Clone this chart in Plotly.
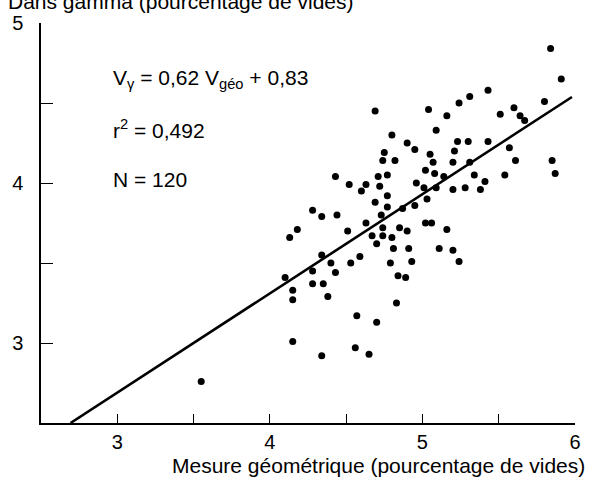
import plotly.graph_objects as go

# Mesure géométrique (x) and Dans gamma (y), pourcentage de vides
x_geo = [5.84, 5.91, 5.80, 5.60, 5.64, 5.67, 5.43, 5.31, 5.24, 5.04,
         5.16, 4.69, 5.51, 5.09, 4.80, 4.90, 4.95, 4.75, 4.74, 4.82,
         5.05, 5.07, 5.23, 5.30, 5.43, 5.21, 5.20, 5.31, 5.57, 5.61,
         5.85, 5.87, 5.54, 5.34, 5.41, 5.38, 5.28, 5.20, 5.14, 5.08,
         5.02, 5.09, 5.01, 4.96, 5.03, 4.95, 4.87, 4.77, 4.77, 4.71,
         4.77, 4.72, 4.63, 4.60, 4.69, 4.73, 4.63, 4.74, 4.85, 4.90,
         5.02, 5.06, 5.16, 4.52, 4.43, 4.44, 4.34, 4.28, 4.18, 4.13,
         4.51, 4.67, 4.74, 4.80, 4.34, 4.40, 4.53, 4.59, 4.28, 4.43,
         4.10, 4.28, 4.35, 4.15, 4.15, 4.38, 4.57, 4.15, 4.56, 4.34,
         3.55, 4.70, 4.81, 4.91, 4.93, 4.79, 5.11, 5.20, 5.24, 4.84,
         4.89, 4.83, 4.70, 4.65]
y_gamma = [4.84, 4.65, 4.51, 4.47, 4.42, 4.39, 4.58, 4.54, 4.50, 4.46,
           4.42, 4.45, 4.43, 4.33, 4.30, 4.25, 4.21, 4.19, 4.14, 4.14,
           4.18, 4.13, 4.26, 4.26, 4.26, 4.20, 4.13, 4.13, 4.22, 4.14,
           4.14, 4.06, 4.05, 4.05, 4.01, 3.96, 3.97, 3.96, 4.04, 4.06,
           4.08, 3.97, 3.97, 4.00, 3.90, 3.86, 3.84, 3.92, 3.85, 4.04,
           4.05, 3.98, 3.99, 3.95, 3.88, 3.80, 3.75, 3.72, 3.72, 3.70,
           3.75, 3.75, 3.71, 3.99, 4.04, 3.80, 3.79, 3.83, 3.71, 3.66,
           3.70, 3.67, 3.67, 3.66, 3.55, 3.50, 3.50, 3.54, 3.45, 3.44,
           3.41, 3.37, 3.37, 3.33, 3.27, 3.29, 3.17, 3.01, 2.97, 2.92,
           2.76, 3.62, 3.59, 3.59, 3.51, 3.50, 3.59, 3.58, 3.51, 3.42,
           3.41, 3.25, 3.13, 2.93]

# Regression: V_gamma = 0.62 V_geo + 0.83
slope = 0.62
intercept = 0.83
fit_x = [(2.5 - intercept) / slope, 5.98]
fit_y = [slope * v + intercept for v in fit_x]

x_ticks = [3, 4, 5, 6]
y_ticks = [3, 4, 5]

FONT = "Liberation Sans, Arial, Helvetica, sans-serif"

fig = go.Figure()
fig.add_trace(go.Scatter(x=fit_x, y=fit_y, mode="lines",
                         line=dict(color="black", width=2.6),
                         hoverinfo="skip", showlegend=False))
fig.add_trace(go.Scatter(x=x_geo, y=y_gamma, mode="markers",
                         marker=dict(color="black", size=7),
                         showlegend=False))

fig.update_layout(
    width=593, height=480,
    margin=dict(l=36, r=13, t=21, b=57),
    plot_bgcolor="white", paper_bgcolor="white",
    font=dict(family=FONT, size=20, color="black"),
)
fig.update_xaxes(range=[2.5, 6.0], showgrid=False, zeroline=False,
                 showline=True, linecolor="black", linewidth=1.5,
                 tickmode="array", tickvals=x_ticks,
                 ticks="inside", ticklen=9, tickwidth=1.3, tickcolor="black",
                 tickfont=dict(size=20), ticklabelstandoff=0,
                 minor=dict(tickmode="linear", tick0=2.5, dtick=0.5,
                            ticks="inside", ticklen=9, tickwidth=1.3,
                            tickcolor="black", showgrid=False))
fig.update_yaxes(range=[2.5, 5.0], showgrid=False, zeroline=False,
                 showline=True, linecolor="black", linewidth=1.5,
                 tickmode="array", tickvals=y_ticks,
                 ticks="inside", ticklen=12, tickwidth=1.3, tickcolor="black",
                 tickfont=dict(size=20), ticklabelstandoff=12,
                 minor=dict(tickmode="linear", tick0=2.5, dtick=0.5,
                            ticks="inside", ticklen=12, tickwidth=1.3,
                            tickcolor="black", showgrid=False))

ann = dict(xref="paper", yref="paper", showarrow=False,
           font=dict(family=FONT, size=21, color="black"))
fig.add_annotation(text="V<sub>γ</sub> = 0,62 V<sub>géo</sub> + 0,83",
                   x=0.132, y=0.861, xanchor="left", yanchor="middle", **ann)
fig.add_annotation(text="r<sup>2</sup> = 0,492",
                   x=0.132, y=0.734, xanchor="left", yanchor="middle", **ann)
fig.add_annotation(text="N = 120",
                   x=0.132, y=0.609, xanchor="left", yanchor="middle", **ann)
fig.add_annotation(text="Mesure géométrique (pourcentage de vides)",
                   x=1.0, xshift=12, y=-0.107, xanchor="right", yanchor="middle",
                   **ann)
fig.add_annotation(text="Dans gamma (pourcentage de vides)",
                   x=-0.066, y=1.0, yshift=22, xanchor="left", yanchor="middle",
                   **ann)

fig.write_html("out.html")
